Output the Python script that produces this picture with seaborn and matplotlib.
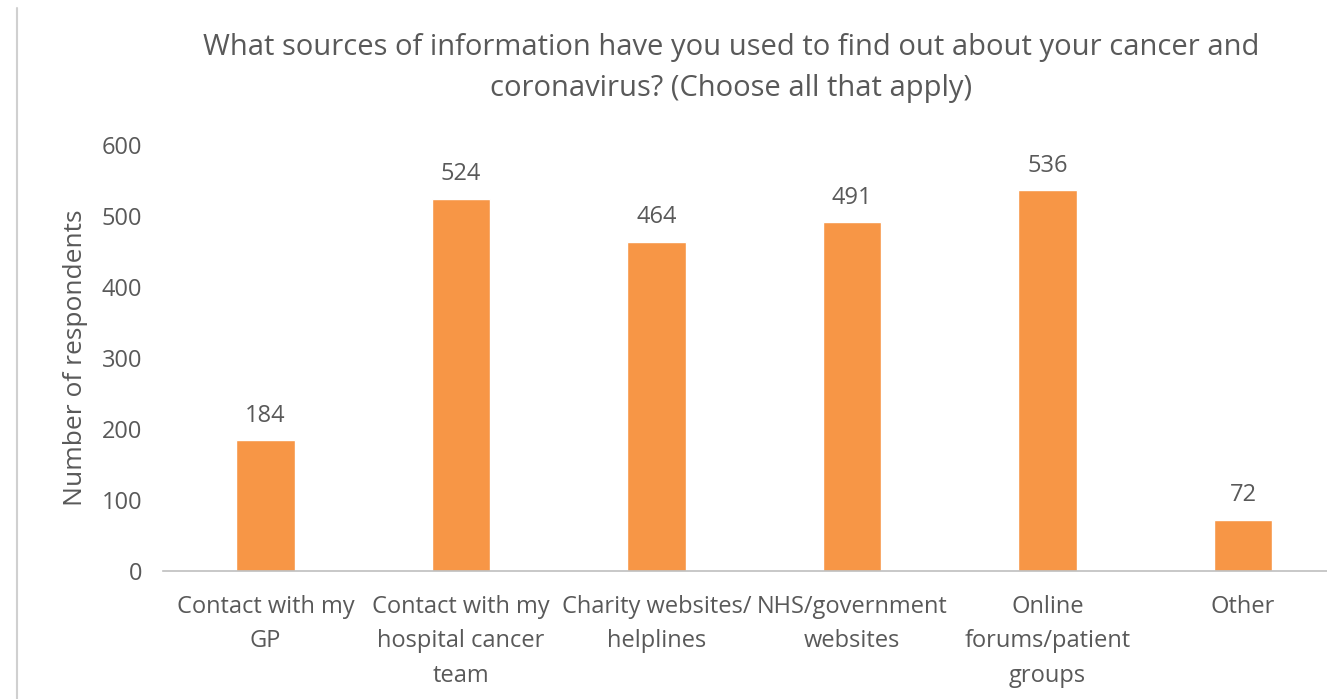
import matplotlib
matplotlib.use("Agg")
import matplotlib.pyplot as plt
import seaborn as sns
import pandas as pd
from matplotlib.lines import Line2D

categories = [
    "Contact with my\nGP",
    "Contact with my\nhospital cancer\nteam",
    "Charity websites/\nhelplines",
    "NHS/government\nwebsites",
    "Online\nforums/patient\ngroups",
    "Other",
]
respondents = [184, 524, 464, 491, 536, 72]
y_ticks = [0, 100, 200, 300, 400, 500, 600]

df = pd.DataFrame({"source": categories, "n": respondents})

sns.set_theme(style="white")
plt.rcParams["font.family"] = ["Open Sans", "DejaVu Sans"]
grey = "#595959"
orange = "#F79646"

fig = plt.figure(figsize=(13.27, 6.99), dpi=100)
ax = fig.add_axes([163 / 1327, 1 - 571 / 699, 1 - 163 / 1327, (571 - 145) / 699])

sns.barplot(data=df, x="source", y="n", color=orange, saturation=1, width=0.30, ax=ax)

# value labels above bars
for i, v in enumerate(respondents):
    ax.annotate(str(v), (i, v), xytext=(0, 9), textcoords="offset points",
                ha="center", va="bottom", fontsize=17, color=grey)

ax.set_ylim(0, 600)
ax.set_xlim(-0.525, 5.43)
ax.set_yticks(y_ticks)
ax.set_yticklabels([str(t) for t in y_ticks], fontsize=17, color=grey)
ax.set_xticks(range(len(categories)))
ax.set_xticklabels(categories, fontsize=17, color=grey, linespacing=1.6)
ax.tick_params(axis="y", length=0, pad=15)
ax.tick_params(axis="x", length=0, pad=17)
ax.set_xlabel("")
ax.set_ylabel("Number of respondents", fontsize=19, color=grey, labelpad=10)

for s in ["top", "right", "left"]:
    ax.spines[s].set_visible(False)
ax.spines["bottom"].set_color("#BFBFBF")
ax.spines["bottom"].set_linewidth(1.2)

fig.text(731 / 1327, 1 - 68 / 699,
         "What sources of information have you used to find out about your cancer and\ncoronavirus? (Choose all that apply)",
         ha="center", va="center", fontsize=21, color=grey, linespacing=1.55)

fig.add_artist(Line2D([17 / 1327, 17 / 1327], [0, 1 - 8 / 699], color="#D0D0D0", lw=1.5))

fig.savefig("out.png", dpi=100, facecolor="white")
